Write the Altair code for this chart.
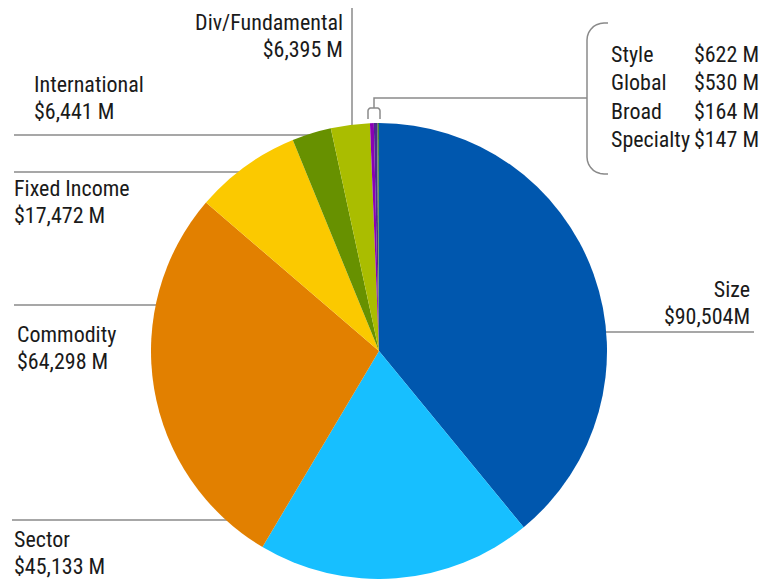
import altair as alt
import pandas as pd
import numpy as np

# ---- data ----
categories = ["Size", "Sector", "Commodity", "Fixed Income", "International",
              "Div/Fundamental", "Style", "Global", "Broad", "Specialty"]
assets = [90504, 45133, 64298, 17472, 6441, 6395, 622, 530, 164, 147]
value_labels = ["$90,504M", "$45,133 M", "$64,298 M", "$17,472 M", "$6,441 M",
                "$6,395 M", "$622 M", "$530 M", "$164 M", "$147 M"]
colors = ["#0057AE", "#17BFFF", "#E28000", "#FBC900", "#679100",
          "#AABD00", "#8A00B4", "#4B2A8C", "#6E6E6E", "#2F7F1F"]

# ---- layout (image pixel coordinates) ----
W, H = 752, 571
FONT = "Roboto Condensed"
FS = 22
LH = 27
TXT = "#1a1a1a"
LINE = "#8a8a8a"
CX, CY, R = 379, 351, 228

main_pos = {  # name: (x, baseline y, align)
    "Size": (750, 297, "right"),
    "Sector": (14, 547, "left"),
    "Commodity": (17, 342, "left"),
    "Fixed Income": (14, 196, "left"),
    "International": (34, 92, "left"),
    "Div/Fundamental": (343, 30, "right"),
}
small_names = ["Style", "Global", "Broad", "Specialty"]
small_baselines = [62, 90, 119, 147]

pie_df = pd.DataFrame({"cat": categories, "assets": assets,
                       "idx": list(range(len(categories)))})

rows = []
for c, v in zip(categories, value_labels):
    if c in main_pos:
        x, y, a = main_pos[c]
        rows.append({"x": x, "y": y, "t": c, "align": a})
        rows.append({"x": x, "y": y + LH, "t": v, "align": a})
for c, yb in zip(small_names, small_baselines):
    v = value_labels[categories.index(c)]
    rows.append({"x": 611, "y": yb, "t": c, "align": "left"})
    rows.append({"x": 759, "y": yb, "t": v, "align": "right"})
text_df = pd.DataFrame(rows)

# leader lines
segs = []
def add(seg, pts):
    for i, (x, y) in enumerate(pts):
        segs.append({"seg": seg, "o": i, "x": x, "y": y})

add("size", [(590, 332), (754, 332)])
add("sector", [(12, 520), (260, 520)])
add("commodity", [(14, 305), (200, 305)])
add("fixed", [(14, 172), (270, 172)])
add("intl", [(14, 135), (325, 135)])
add("div", [(352, 8), (352, 135)])

def corner(cx, cy, r, a0, a1, n=8):
    ang = np.linspace(np.radians(a0), np.radians(a1), n)
    return [(cx + r * np.cos(t), cy + r * np.sin(t)) for t in ang]

r = 17
brace = ([(608, 23)] + corner(587 + r, 23 + r, r, 270, 180) +
         corner(587 + r, 174 - r, r, 180, 90) + [(608, 174)])
add("brace", brace)
add("conn", [(587, 98), (374, 98), (374, 108)])
rs = 3
small = ([(368, 119)] + corner(368 + rs, 108 + rs, rs, 180, 270) +
         corner(380 - rs, 108 + rs, rs, 270, 360) + [(380, 119)])
add("smallbr", small)
seg_df = pd.DataFrame(segs)

xs = alt.Scale(domain=[8, 8 + W], range=[0, W])
ys = alt.Scale(domain=[8, 8 + H], range=[0, H])

lines = alt.Chart(seg_df).mark_line(color=LINE, strokeWidth=1.5).encode(
    x=alt.X("x:Q", scale=xs, axis=None),
    y=alt.Y("y:Q", scale=ys, axis=None),
    detail="seg:N",
    order="o:Q",
)

pie = alt.Chart(pie_df).mark_arc(radius=R).encode(
    theta=alt.Theta("assets:Q", stack=True),
    order=alt.Order("idx:Q"),
    color=alt.Color("cat:N", scale=alt.Scale(domain=categories, range=colors),
                    legend=None),
    x=alt.value(CX - 8),
    y=alt.value(CY - 8),
)

def txt(align):
    return alt.Chart(text_df[text_df["align"] == align]).mark_text(
        font=FONT, fontSize=FS, color=TXT, align=align, baseline="alphabetic"
    ).encode(
        x=alt.X("x:Q", scale=xs, axis=None),
        y=alt.Y("y:Q", scale=ys, axis=None),
        text="t:N",
    )

chart = alt.layer(lines, pie, txt("left"), txt("right")).properties(
    width=W, height=H, padding=0, autosize="none"
).configure_view(stroke=None)

chart.save("out.html", embed_options={"renderer": "svg", "actions": False})
